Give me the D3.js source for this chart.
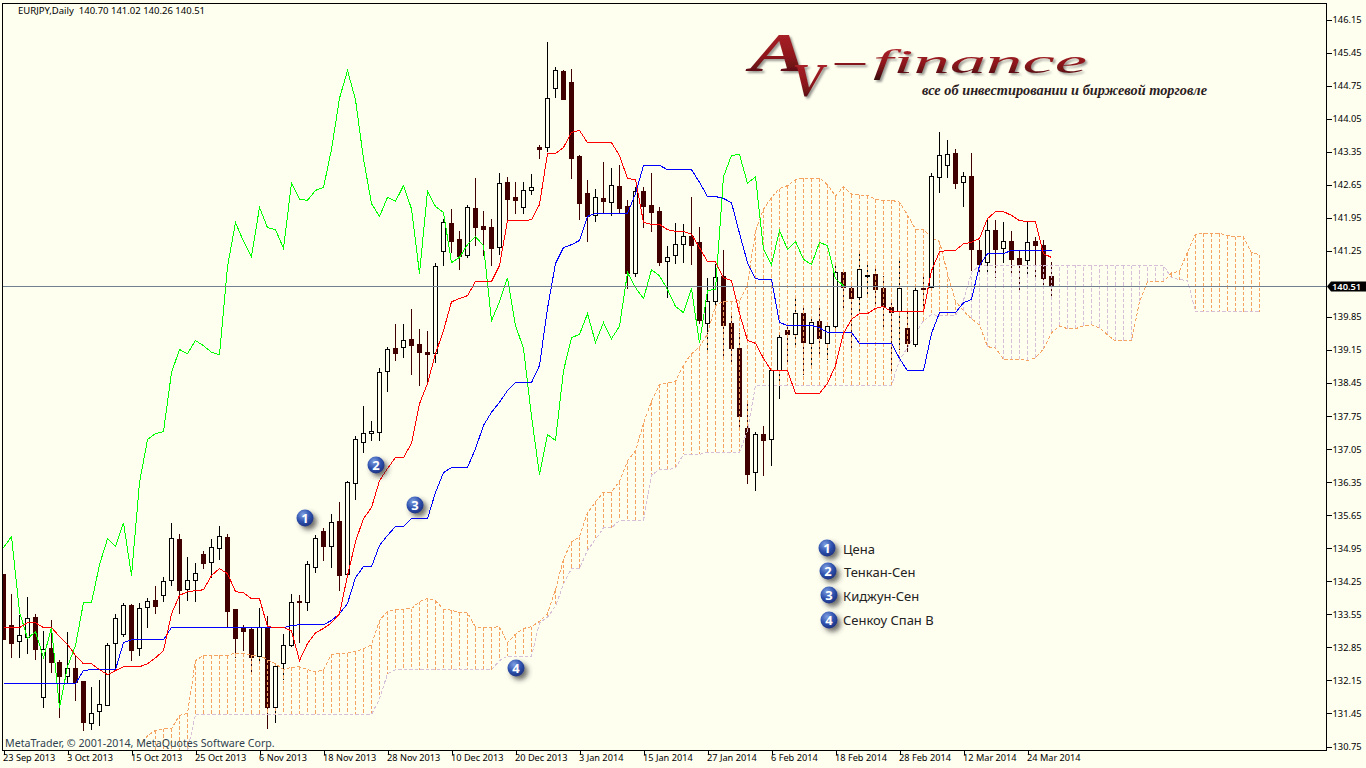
<!DOCTYPE html>
<html><head><meta charset="utf-8"><title>EURJPY Daily</title>
<script src="https://cdn.jsdelivr.net/npm/d3@7"></script>
<style>
html,body{margin:0;padding:0;background:#fffff0;overflow:hidden}
svg{display:block}
text{font-family:"Noto Sans",sans-serif}
</style></head><body><svg id="c" width="1366" height="768"></svg>
<script>
const opens=[134.39,133.31,132.97,133.06,133.48,131.78,132.82,132.53,132.23,132.40,
132.12,131.24,131.49,131.62,132.93,133.12,133.73,132.82,133.69,133.84,
133.95,134.26,135.13,134.07,134.26,134.82,134.65,134.94,135.17,133.65,
133.25,133.22,132.65,133.27,131.57,132.50,132.89,133.82,133.80,134.54,
135.30,134.99,135.51,134.39,136.32,137.19,137.38,137.40,138.69,139.18,
139.20,139.37,139.26,139.10,139.07,141.24,141.83,141.49,141.15,142.14,
141.76,141.74,141.32,142.70,142.38,142.17,142.53,143.44,143.44,144.69,
145.05,144.81,143.25,142.46,142.00,142.36,142.27,142.61,142.19,140.77,
142.51,142.21,142.08,141.02,141.15,141.38,141.55,141.43,139.71,140.17,
140.70,139.71,139.18,137.49,136.55,137.36,137.25,138.71,139.56,139.48,
139.92,139.29,139.75,139.29,139.65,140.79,140.45,140.26,140.70,140.75,
140.45,140.05,139.96,139.60,139.27,140.45,140.47,142.80,143.06,143.31,
142.70,142.82,141.26,141.00,141.68,141.30,141.45,141.09,141.04,141.45,
141.36,140.70];
const highs=[134.39,133.97,133.54,133.92,133.56,133.20,133.44,132.59,133.18,132.67,
132.12,132.02,132.15,132.95,133.56,133.80,133.76,133.78,133.90,134.16,
134.35,135.49,135.26,134.77,134.63,134.90,135.15,135.43,135.26,133.67,
133.33,133.29,133.69,133.52,132.44,133.14,133.99,133.95,134.67,135.24,
135.37,135.68,135.92,136.38,137.32,137.97,137.65,138.76,139.22,139.69,
139.69,140.01,139.60,139.56,141.00,141.93,142.14,141.68,142.23,142.80,
142.10,141.93,142.89,142.82,142.70,142.70,142.87,143.50,145.68,145.15,
145.07,145.11,143.27,142.76,142.57,143.14,143.01,143.06,142.32,142.61,
142.61,142.89,142.17,141.36,141.83,141.81,142.40,141.76,140.68,140.98,
141.26,139.88,139.50,138.08,137.42,137.53,138.71,139.50,139.73,140.28,
140.03,139.82,140.03,139.71,140.98,140.83,140.56,141.21,141.04,140.87,
140.72,140.15,141.09,140.03,140.47,140.72,142.89,143.76,143.59,143.40,
142.93,143.33,141.47,141.93,141.91,141.87,141.68,141.24,141.85,141.55,
141.47,141.02];
const lows=[133.01,132.63,132.63,132.72,132.59,131.57,132.30,131.36,132.10,131.72,
131.07,131.11,131.19,131.62,132.36,133.08,132.57,132.67,133.27,133.56,
133.82,134.14,133.56,133.84,133.82,134.50,134.31,134.71,133.27,132.63,
132.78,132.30,132.53,131.13,131.24,132.15,132.85,132.95,133.63,134.43,
134.69,134.54,134.05,134.37,135.98,136.96,137.23,137.23,138.25,138.91,
138.97,138.63,138.38,138.42,138.88,140.92,141.21,140.85,141.09,141.36,
141.15,140.92,141.17,141.89,142.04,142.04,142.44,143.20,143.35,144.48,
144.45,142.78,141.91,141.43,141.87,142.06,141.98,142.02,140.45,140.70,
141.74,141.64,140.92,140.26,140.98,141.00,140.96,139.71,139.12,140.09,
139.03,138.88,137.44,136.32,136.17,136.49,136.70,138.12,138.88,139.22,
138.61,138.82,138.97,138.93,139.50,139.99,139.14,139.92,140.24,140.05,
139.62,138.71,139.14,139.10,139.22,139.92,140.45,142.48,142.80,142.55,
142.17,140.83,140.77,140.77,140.68,141.00,140.77,140.36,140.68,140.66,
140.45,140.26];
const closes=[133.01,132.93,133.10,133.46,132.80,132.80,132.53,132.23,132.40,132.10,
131.26,131.45,131.64,132.89,133.46,133.73,132.78,133.67,133.82,133.71,
134.24,135.15,134.05,134.26,134.41,134.63,134.96,135.20,133.60,133.04,
133.18,132.63,133.27,131.57,132.44,132.89,133.80,133.80,134.60,135.15,
134.99,135.49,134.37,136.34,137.25,137.38,137.42,138.67,139.16,139.07,
139.35,139.24,139.10,139.05,140.92,141.85,141.45,141.13,142.17,141.74,
141.70,141.30,142.68,142.34,142.32,142.53,142.59,143.40,144.48,145.07,
144.45,143.20,142.25,141.98,142.38,142.30,142.63,142.14,140.77,142.51,
142.19,142.06,141.00,141.11,141.38,141.55,141.36,139.77,140.17,140.68,
139.67,139.18,137.74,136.51,137.36,137.23,138.71,139.41,139.48,139.92,
139.31,139.73,139.39,139.65,140.79,140.47,140.24,140.85,140.72,140.43,
140.07,139.94,140.45,139.29,140.41,140.43,142.82,143.27,143.29,142.68,
142.82,141.28,140.96,141.68,141.28,141.45,141.07,140.96,141.43,141.36,
140.66,140.51];
const tenkan=[133.27,133.27,133.27,133.37,133.37,133.27,133.27,133.08,132.91,132.68,
132.50,132.50,132.38,132.27,132.36,132.44,132.44,132.44,132.50,132.63,
132.78,133.56,133.95,134.03,134.05,134.07,134.37,134.52,134.41,134.03,
134.01,133.88,133.88,133.29,133.27,133.27,133.20,132.57,132.93,133.16,
133.25,133.37,133.56,134.37,135.09,135.58,135.81,136.38,136.64,136.87,
136.87,137.17,138.01,138.44,139.07,139.56,140.17,140.24,140.30,140.60,
140.60,140.60,140.94,141.89,141.89,141.89,141.91,142.23,143.31,143.31,
143.44,143.76,143.80,143.54,143.54,143.54,143.54,143.27,142.78,142.76,
141.85,141.81,141.81,141.70,141.66,141.66,141.60,141.32,141.02,141.02,
140.68,140.62,139.92,139.35,139.29,138.97,138.71,138.71,138.71,138.23,
138.23,138.23,138.23,138.44,138.82,139.50,139.80,139.92,139.92,140.03,
140.07,139.96,139.96,139.96,139.96,139.96,140.83,141.23,141.26,141.26,
141.40,141.43,141.51,141.93,142.08,142.08,142.00,141.89,141.87,141.87,
141.19,141.11];
const kijun=[132.08,132.08,132.08,132.08,132.08,132.08,132.08,132.08,132.08,132.08,
132.36,132.38,132.38,132.38,132.38,132.95,133.01,133.01,133.01,133.01,
133.01,133.27,133.27,133.27,133.27,133.27,133.27,133.27,133.27,133.27,
133.27,133.27,133.27,133.27,133.27,133.27,133.31,133.33,133.33,133.33,
133.33,133.42,133.56,133.78,134.33,134.56,134.56,135.01,135.22,135.41,
135.41,135.58,135.58,135.58,136.13,136.55,136.66,136.66,136.66,137.06,
137.55,137.83,138.04,138.29,138.46,138.46,138.46,138.82,140.03,140.98,
141.32,141.38,141.47,141.98,142.04,142.04,142.04,142.04,142.04,142.46,
143.06,143.06,143.06,142.97,142.97,142.97,142.97,142.70,142.40,142.40,
142.36,142.27,141.62,141.00,140.66,140.64,140.64,139.73,139.67,139.67,
139.67,139.67,139.62,139.52,139.52,139.52,139.52,139.29,139.29,139.29,
139.29,139.29,138.97,138.71,138.71,138.71,139.50,139.94,139.94,139.94,
140.15,140.22,140.94,141.19,141.19,141.19,141.26,141.26,141.26,141.26,
141.26,141.26];
const chikou=[134.96,135.20,133.60,133.04,133.18,132.63,133.27,131.57,132.44,132.89,
133.80,133.80,134.60,135.15,134.99,135.49,134.37,136.34,137.25,137.38,
137.42,138.67,139.16,139.07,139.35,139.24,139.10,139.05,140.92,141.85,
141.45,141.13,142.17,141.74,141.70,141.30,142.68,142.34,142.32,142.53,
142.59,143.40,144.48,145.07,144.45,143.20,142.25,141.98,142.38,142.30,
142.63,142.14,140.77,142.51,142.19,142.06,141.00,141.11,141.38,141.55,
141.36,139.77,140.17,140.68,139.67,139.18,137.74,136.51,137.36,137.23,
138.71,139.41,139.48,139.92,139.31,139.73,139.39,139.65,140.79,140.47,
140.24,140.85,140.72,140.43,140.07,139.94,140.45,139.29,140.41,140.43,
142.82,143.27,143.29,142.68,142.82,141.28,140.96,141.68,141.28,141.45,
141.07,140.96,141.43,141.36,140.66,140.51];
const spanStart=17;
const spanA=[130.73,130.98,131.09,
131.13,131.13,131.41,131.45,132.57,132.68,132.68,132.68,132.68,132.73,
132.73,132.68,132.68,132.59,132.50,132.38,132.43,132.44,132.38,132.33,
132.37,132.70,132.73,132.73,132.76,132.82,132.90,133.42,133.61,133.65,
133.66,133.67,133.82,133.89,133.84,133.65,133.64,133.58,133.58,133.28,
133.27,133.27,133.29,132.95,133.13,133.25,133.29,133.40,133.56,134.07,
134.72,135.08,135.19,135.70,135.93,136.14,136.14,136.37,136.80,137.01,
137.60,138.06,138.42,138.45,138.48,138.83,139.07,139.21,139.49,140.09,
140.18,140.18,140.19,140.53,141.67,142.13,142.38,142.57,142.63,142.76,
142.79,142.79,142.79,142.65,142.41,142.61,142.45,142.43,142.43,142.34,
142.32,142.32,142.28,142.01,141.71,141.71,141.52,141.45,140.77,140.18,
139.98,139.81,139.68,139.22,139.19,138.95,138.95,138.95,138.93,138.98,
139.17,139.51,139.66,139.60,139.60,139.66,139.68,139.62,139.47,139.34,
139.34,139.34,140.18,140.59,140.60,140.60,140.78,140.82,141.22,141.60,
141.62,141.62,141.62,141.57,141.55,141.55,141.21,141.17];
const spanB=[130.24,130.24,130.24,
130.24,130.24,130.24,130.66,131.43,131.43,131.43,131.43,131.43,131.43,
131.43,131.43,131.43,131.43,131.43,131.43,131.43,131.43,131.43,131.43,
131.43,131.43,131.43,131.43,131.43,131.43,131.43,131.76,132.29,132.38,
132.38,132.38,132.38,132.38,132.38,132.38,132.38,132.38,132.38,132.38,
132.38,132.38,132.57,132.66,132.66,132.66,132.66,133.37,133.49,133.72,
134.19,134.52,134.52,134.91,135.14,135.38,135.38,135.54,135.54,135.54,
135.54,136.50,136.61,136.61,136.65,136.94,136.94,136.94,136.98,136.98,
136.98,136.98,136.98,137.44,138.40,138.40,138.40,138.40,138.40,138.40,
138.40,138.40,138.40,138.40,138.40,138.40,138.40,138.40,138.40,138.40,
138.40,138.40,138.93,139.20,139.50,139.77,139.90,139.88,139.88,139.88,
140.20,140.79,140.94,140.94,140.94,140.94,140.94,140.94,140.94,140.94,
140.94,140.94,140.94,140.94,140.94,140.94,140.94,140.94,140.94,140.94,
140.94,140.94,140.94,140.94,140.94,140.94,140.68,140.64,140.62,139.96,
139.96,139.96,139.96,139.96,139.96,139.96,139.96,139.96];
const priceTicks=[146.15,145.45,144.75,144.05,143.35,142.65,141.95,141.25,139.85,139.15,138.45,137.75,137.05,136.35,135.65,134.95,134.25,133.55,132.85,132.15,131.45,130.75];
const lastPrice=140.51;
const dateLabels=["23 Sep 2013","3 Oct 2013","15 Oct 2013","25 Oct 2013","6 Nov 2013","18 Nov 2013","28 Nov 2013","10 Dec 2013","20 Dec 2013","3 Jan 2014","15 Jan 2014","27 Jan 2014","6 Feb 2014","18 Feb 2014","28 Feb 2014","12 Mar 2014","24 Mar 2014"];
const dateEvery=8;
const legendLabels=["Цена","Тенкан-Сен","Киджун-Сен","Сенкоу Спан В"];
const titleText="EURJPY,Daily  140.70 141.02 140.26 140.51";
const copyText="MetaTrader, © 2001-2014, MetaQuotes Software Corp.";

const L=2.5,R=1326.5,T=3.5,B=750.5;
const x=d3.scaleLinear().domain([0,1]).range([3.5,11.5]);
const y=d3.scaleLinear().domain([130.75,146.15]).range([746.5,19.5]);
const svg=d3.select("#c");
const defs=svg.append("defs");
defs.append("clipPath").attr("id","plot").append("rect").attr("x",L).attr("y",T).attr("width",R-L).attr("height",B-T);
const rg=defs.append("radialGradient").attr("id","ball").attr("cx","38%").attr("cy","30%").attr("r","75%");
rg.append("stop").attr("offset","0%").attr("stop-color","#7f9fe0");
rg.append("stop").attr("offset","55%").attr("stop-color","#2f52ae");
rg.append("stop").attr("offset","100%").attr("stop-color","#1b2f7c");
const sh=defs.append("filter").attr("id","shadow").attr("x","-50%").attr("y","-50%").attr("width","240%").attr("height","240%");
sh.append("feDropShadow").attr("dx",3.5).attr("dy",3.5).attr("stdDeviation",2.4).attr("flood-color","#333").attr("flood-opacity",.7);
const sh2=defs.append("filter").attr("id","lshadow").attr("x","-10%").attr("y","-30%").attr("width","125%").attr("height","170%");
sh2.append("feDropShadow").attr("dx",2).attr("dy",2).attr("stdDeviation",1.2).attr("flood-color","#555").attr("flood-opacity",.6);
const lg=defs.append("linearGradient").attr("id","red").attr("x1",0).attr("y1",0).attr("x2",0).attr("y2",1);
lg.append("stop").attr("offset","0%").attr("stop-color","#b5262c");
lg.append("stop").attr("offset","55%").attr("stop-color","#8e171c");
lg.append("stop").attr("offset","100%").attr("stop-color","#3a0a0c");

svg.append("rect").attr("width",1366).attr("height",768).attr("fill","#fffff0");
const plot=svg.append("g").attr("clip-path","url(#plot)").attr("shape-rendering","crispEdges");

const bars=closes.map((c,i)=>({i,o:opens[i],h:highs[i],l:lows[i],c,up:c>=opens[i]&&!(i===37||i===67)}));
const dark="#400000";
// wicks and bearish bodies lie under the cloud hatching
plot.append("g").selectAll("line").data(bars).join("line")
 .attr("x1",d=>x(d.i)).attr("x2",d=>x(d.i)).attr("y1",d=>y(d.h)).attr("y2",d=>y(d.l))
 .attr("stroke",d=>d.up?"#000":dark);
plot.append("g").selectAll("rect").data(bars.filter(d=>!d.up)).join("rect")
 .attr("x",d=>x(d.i)-2).attr("width",4)
 .attr("y",d=>y(Math.max(d.o,d.c))).attr("height",d=>Math.max(1,y(Math.min(d.o,d.c))-y(Math.max(d.o,d.c))))
 .attr("fill",dark).attr("stroke",dark);

const spans=spanA.map((a,k)=>({i:k+spanStart,a,b:spanB[k]}));
const orange="#f4a460",thistle="#d8bfd8",dash="3.5,2";
plot.append("g").selectAll("line").data(spans.filter(d=>d.i>=19)).join("line")
 .attr("x1",d=>x(d.i)).attr("x2",d=>x(d.i)).attr("y1",d=>y(d.a)).attr("y2",d=>y(d.b))
 .attr("stroke",d=>d.a>=d.b?orange:thistle).attr("stroke-dasharray",dash);
const ln=(f)=>d3.line().x(d=>x(d.i)).y(d=>y(d[f]));
plot.append("path").datum(spans).attr("d",ln("b")).attr("fill","none").attr("stroke",thistle).attr("stroke-dasharray",dash);
plot.append("path").datum(spans).attr("d",ln("a")).attr("fill","none").attr("stroke",orange).attr("stroke-dasharray",dash);

// bullish bodies cover the hatching
plot.append("g").selectAll("rect").data(bars.filter(d=>d.up)).join("rect")
 .attr("x",d=>x(d.i)-2).attr("width",4)
 .attr("y",d=>y(d.c)).attr("height",d=>Math.max(1,y(d.o)-y(d.c)))
 .attr("fill","#fffff0").attr("stroke","#000");

const simple=(arr,off,col)=>plot.append("path").datum(arr.map((v,k)=>({i:k+off,v})))
 .attr("d",ln("v")).attr("fill","none").attr("stroke",col).attr("stroke-width",1);
simple(chikou,0,"#00ff00");
simple(kijun,0,"#0000ff");
simple(tenkan,0,"#ff0000");

const ly=Math.round(y(lastPrice))+.5;
plot.append("line").attr("x1",L).attr("x2",R).attr("y1",ly).attr("y2",ly).attr("stroke","#708090");

// frame and axes
svg.append("rect").attr("x",L).attr("y",T).attr("width",R-L).attr("height",B-T).attr("fill","none").attr("stroke","#000").attr("shape-rendering","crispEdges");
const ay=svg.append("g").attr("transform",`translate(${R},0)`).call(d3.axisRight(y).tickValues(priceTicks).tickSize(5).tickPadding(1).tickFormat(d3.format(".2f")));
ay.select(".domain").remove();
ay.selectAll("line").attr("shape-rendering","crispEdges");
ay.selectAll("text").attr("font-size",9.3).attr("font-family","Noto Sans").attr("fill","#000");
const ax=svg.append("g").attr("transform",`translate(0,${B})`).call(d3.axisBottom(x).tickValues(dateLabels.map((_,k)=>k*dateEvery)).tickSize(4).tickFormat((d,k)=>dateLabels[k]));
ax.select(".domain").remove();
ax.selectAll("line").attr("shape-rendering","crispEdges");
ax.selectAll("text").attr("font-size",9.2).attr("font-family","Noto Sans").attr("fill","#000").attr("text-anchor","start").attr("dx",-1).attr("y",4).attr("dy","0.71em");

// last price tag
svg.append("path").attr("d",`M1327 ${ly} l4 -5 h35 v10 h-35 z`).attr("fill","#000");
svg.append("text").attr("x",1332).attr("y",ly+3.5).attr("font-size",9.3).attr("font-weight","600").attr("fill","#fff").text(d3.format(".2f")(lastPrice));

svg.append("text").attr("x",18).attr("y",13.5).attr("font-size",9.5).attr("fill","#000").style("white-space","pre").text(titleText);
svg.append("text").attr("x",5).attr("y",747).attr("font-size",10.65).attr("fill","#2f3f4f").text(copyText);

// logo
const logo=svg.append("g").attr("filter","url(#lshadow)").attr("font-style","italic").attr("fill","url(#red)");
logo.append("text").attr("x",750).attr("y",71).attr("font-size",54).attr("font-weight","bold").style("font-family","Liberation Serif").attr("textLength",58).attr("lengthAdjust","spacingAndGlyphs").text("A");
logo.append("text").attr("x",792).attr("y",96).attr("font-size",46).attr("font-weight","bold").style("font-family","Liberation Serif").attr("textLength",32).attr("lengthAdjust","spacingAndGlyphs").text("V");
logo.append("text").attr("x",835).attr("y",73).attr("font-size",40).style("font-family","Liberation Serif").attr("textLength",30).attr("lengthAdjust","spacingAndGlyphs").text("–");
logo.append("text").attr("x",873).attr("y",73).attr("font-size",34).style("font-family","Liberation Serif").attr("textLength",214).attr("lengthAdjust","spacingAndGlyphs").text("finance");
svg.append("text").attr("x",922).attr("y",95).attr("font-size",14).attr("font-style","italic").attr("font-weight","bold").style("font-family","Liberation Serif").attr("fill","#2a2020").attr("textLength",285).attr("lengthAdjust","spacingAndGlyphs").text("все об инвестировании и биржевой торговле");

// numbered markers
const markers=[[1,305,518],[2,376,465],[3,415,505],[4,516,668],[1,827,548],[2,828,571],[3,829,595],[4,829,620]];
const mg=svg.append("g").selectAll("g").data(markers).join("g").attr("transform",d=>`translate(${d[1]},${d[2]})`);
mg.append("circle").attr("r",8.5).attr("fill","url(#ball)").attr("filter","url(#shadow)");
mg.append("text").attr("text-anchor","middle").attr("y",4.5).attr("font-size",13).attr("font-weight","bold").attr("fill","#fff").text(d=>d[0]);

const legendY=[549,572,596,620],legendX=[843,844,843,843];
svg.append("g").selectAll("text").data(legendLabels).join("text")
 .attr("x",(d,k)=>legendX[k]).attr("y",(d,k)=>legendY[k]+4.5).attr("font-size",13).attr("fill","#222").text(d=>d);
</script></body></html>
